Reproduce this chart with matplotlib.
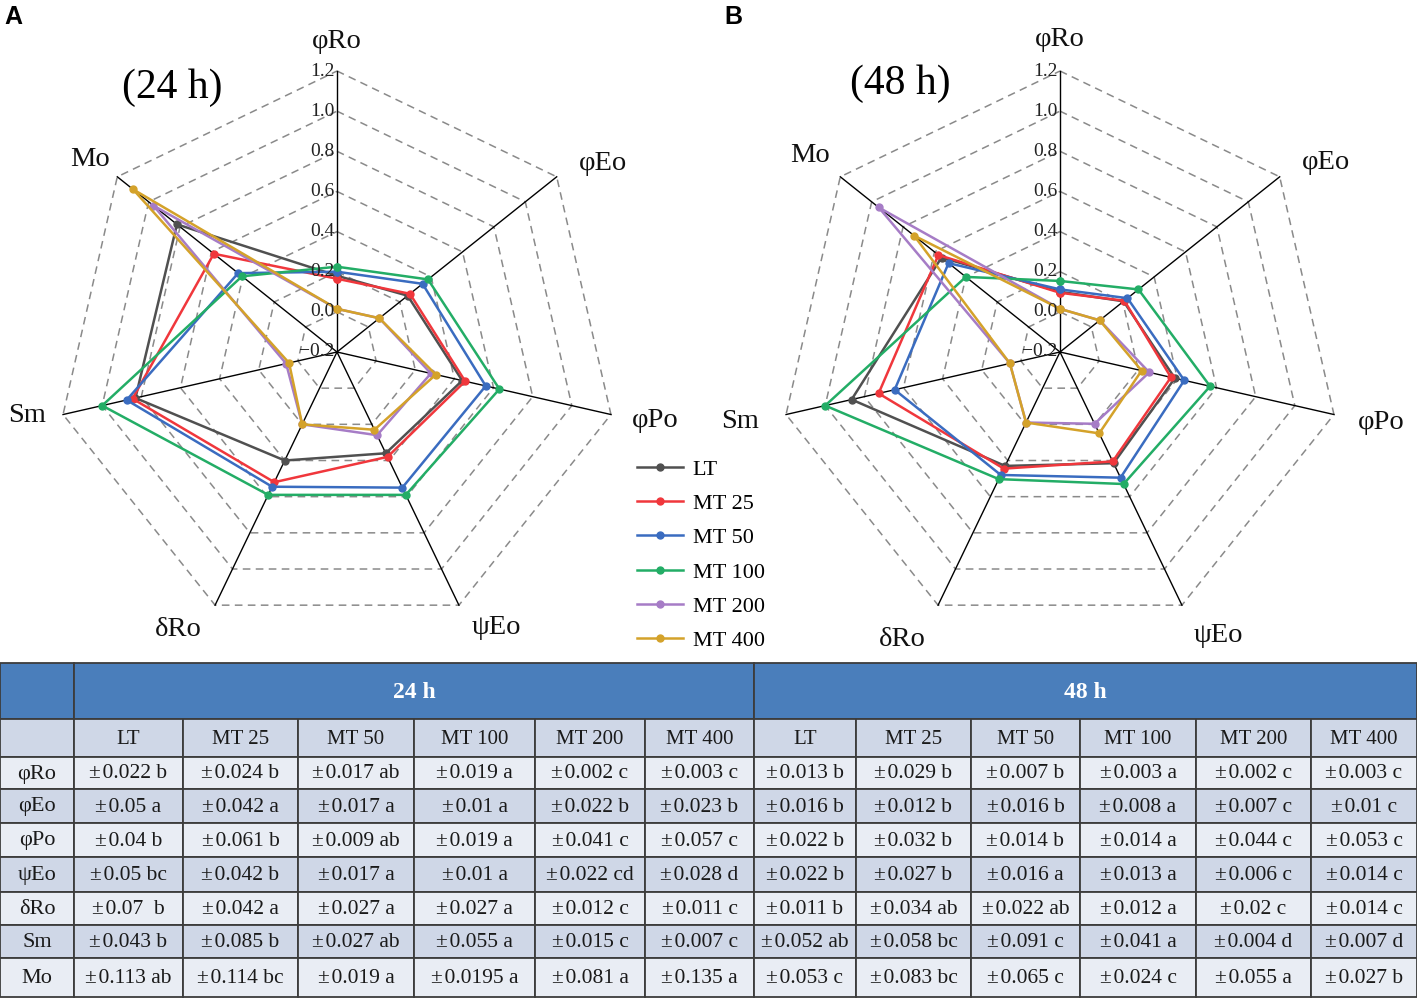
import numpy as np
import matplotlib
matplotlib.use('Agg')
import matplotlib.pyplot as plt
from matplotlib.patches import Rectangle

plt.rcParams['font.family'] = ['Liberation Serif', 'DejaVu Serif']

# ---------------- data ----------------
axis_labels = ['φRo', 'φEo', 'φPo', 'ψEo', 'δRo', 'Sm', 'Mo']
series_names = ['LT', 'MT 25', 'MT 50', 'MT 100', 'MT 200', 'MT 400']
series_colors = ['#505050', '#f0373c', '#3a6cc0', '#23ad66', '#a67cc6', '#d4a22a']

# 24 h (order: φRo, φEo, φPo, ψEo, δRo, Sm, Mo)
lt_24 = [0.18, 0.25, 0.44, 0.36, 0.40, 0.83, 0.82]
mt25_24 = [0.165, 0.265, 0.455, 0.38, 0.52, 0.845, 0.585]
mt50_24 = [0.20, 0.345, 0.56, 0.55, 0.545, 0.875, 0.43]
mt100_24 = [0.225, 0.38, 0.63, 0.59, 0.59, 1.00, 0.405]
mt200_24 = [0.015, 0.07, 0.28, 0.26, 0.20, 0.06, 0.97]
mt400_24 = [0.015, 0.07, 0.305, 0.23, 0.20, 0.045, 1.10]

# 48 h
lt_48 = [0.10, 0.205, 0.387, 0.415, 0.43, 0.865, 0.555]
mt25_48 = [0.095, 0.21, 0.367, 0.405, 0.445, 0.727, 0.575]
mt50_48 = [0.112, 0.23, 0.435, 0.495, 0.48, 0.645, 0.51]
mt100_48 = [0.154, 0.30, 0.567, 0.53, 0.503, 1.00, 0.40]
mt200_48 = [0.015, 0.053, 0.256, 0.197, 0.19, 0.056, 0.955]
mt400_48 = [0.015, 0.053, 0.217, 0.25, 0.19, 0.056, 0.73]

r_ticks = [-0.2, 0.0, 0.2, 0.4, 0.6, 0.8, 1.0, 1.2]
r_tick_labels = ['−0.2', '0.0', '0.2', '0.4', '0.6', '0.8', '1.0', '1.2']

table_cols = ['LT', 'MT 25', 'MT 50', 'MT 100', 'MT 200', 'MT 400']
table_rows = ['φRo', 'φEo', 'φPo', 'ψEo', 'δRo', 'Sm', 'Mo']
table_24h = [
    ['±0.022 b', '±0.024 b', '±0.017 ab', '±0.019 a', '±0.002 c', '±0.003 c'],
    ['±0.05 a', '±0.042 a', '±0.017 a', '±0.01 a', '±0.022 b', '±0.023 b'],
    ['±0.04 b', '±0.061 b', '±0.009 ab', '±0.019 a', '±0.041 c', '±0.057 c'],
    ['±0.05 bc', '±0.042 b', '±0.017 a', '±0.01 a', '±0.022 cd', '±0.028 d'],
    ['±0.07  b', '±0.042 a', '±0.027 a', '±0.027 a', '±0.012 c', '±0.011 c'],
    ['±0.043 b', '±0.085 b', '±0.027 ab', '±0.055 a', '±0.015 c', '±0.007 c'],
    ['±0.113 ab', '±0.114 bc', '±0.019 a', '±0.0195 a', '±0.081 a', '±0.135 a'],
]
table_48h = [
    ['±0.013 b', '±0.029 b', '±0.007 b', '±0.003 a', '±0.002 c', '±0.003 c'],
    ['±0.016 b', '±0.012 b', '±0.016 b', '±0.008 a', '±0.007 c', '±0.01 c'],
    ['±0.022 b', '±0.032 b', '±0.014 b', '±0.014 a', '±0.044 c', '±0.053 c'],
    ['±0.022 b', '±0.027 b', '±0.016 a', '±0.013 a', '±0.006 c', '±0.014 c'],
    ['±0.011 b', '±0.034 ab', '±0.022 ab', '±0.012 a', '±0.02 c', '±0.014 c'],
    ['±0.052 ab', '±0.058 bc', '±0.091 c', '±0.041 a', '±0.004 d', '±0.007 d'],
    ['±0.053 c', '±0.083 bc', '±0.065 c', '±0.024 c', '±0.055 a', '±0.027 b'],
]

# ---------------- figure ----------------
W, H = 1417, 1001
fig = plt.figure(figsize=(W / 100, H / 100), dpi=100)
fig.patch.set_facecolor('white')

R = 281            # pixels for the full radial range (-0.2 .. 1.2)
PX_PER_UNIT = R / 1.4

# label placement (compass angle in degrees, distance from centre in px)
label_pos_A = [(0, 310), (54.6, 326), (102.1, 325), (150.0, 318),
               (209.8, 320), (258.5, 316), (307.9, 313)]
label_pos_B = [(0, 312), (54.5, 327), (102.3, 329), (150.8, 325),
               (208.7, 328), (257.7, 327), (308.2, 318)]


def polar_rect(cx, cy):
    return [(cx - R) / W, (H - cy - R) / H, 2 * R / W, 2 * R / H]


def radar(ax, data_list, label_pos):
    n = len(axis_labels)
    angles = np.arange(n) * 2 * np.pi / n
    closed = np.append(angles, angles[0])
    ax.set_theta_zero_location('N')
    ax.set_theta_direction(-1)
    ax.set_ylim(-0.2, 1.2)
    ax.set_xticks([])
    ax.set_yticks([])
    ax.grid(False)
    ax.spines['polar'].set_visible(False)
    ax.patch.set_alpha(0)
    for lv in r_ticks[1:]:
        ax.plot(closed, [lv] * (n + 1), ls=(0, (5, 3.5)), color='#8a8a8a',
                lw=1.1, zorder=1, clip_on=False)
    for a in angles:
        ax.plot([a, a], [-0.2, 1.2], color='black', lw=1.0, zorder=2, clip_on=False)
    handles = []
    for vals, c, name in zip(data_list, series_colors, series_names):
        v = np.append(vals, vals[0])
        h, = ax.plot(closed, v, color=c, lw=1.8, marker='o', ms=5, zorder=3,
                     label=name, clip_on=False)
        handles.append(h)
    for t, s in zip(r_ticks, r_tick_labels):
        ax.annotate(s, xy=(0, t), xytext=(-2, 0), textcoords='offset points',
                    ha='right', va='center', fontsize=14, color='#222222', zorder=4)
    for (deg, rpx), lab in zip(label_pos, axis_labels):
        ax.text(np.deg2rad(deg), -0.2 + rpx / PX_PER_UNIT, lab, ha='center',
                va='center', fontsize=20.5, color='#111111')
    return handles


axA = fig.add_axes(polar_rect(337, 352), projection='polar')
handles = radar(axA, [lt_24, mt25_24, mt50_24, mt100_24, mt200_24, mt400_24],
                label_pos_A)
axB = fig.add_axes(polar_rect(1060, 352), projection='polar')
radar(axB, [lt_48, mt25_48, mt50_48, mt100_48, mt200_48, mt400_48], label_pos_B)

fig.text(4 / W, 1 - 17 / H, 'A', fontsize=18, fontweight='bold',
         family='Liberation Sans', ha='left', va='center')
fig.text(724 / W, 1 - 17 / H, 'B', fontsize=18, fontweight='bold',
         family='Liberation Sans', ha='left', va='center')
fig.text(172 / W, 1 - 88 / H, '(24 h)', fontsize=30, ha='center', va='center')
fig.text(900 / W, 1 - 84 / H, '(48 h)', fontsize=30, ha='center', va='center')

fig.legend(handles=handles, labels=series_names, loc='upper left',
           bbox_to_anchor=(637 / W, 1 - 459 / H), frameon=False, fontsize=16,
           handlelength=2.05, handletextpad=0.45, labelspacing=0.62,
           borderpad=0, borderaxespad=0)

# ---------------- table ----------------
tax = fig.add_axes([0, 0, 1, 1])
tax.set_xlim(0, W)
tax.set_ylim(H, 0)
tax.axis('off')
tax.set_zorder(-1)

col_edges = [0, 74, 183, 298, 414, 535, 645, 754, 856, 971, 1080, 1196, 1311, 1417]
row_edges = [663, 719, 757, 789, 823, 857, 892, 925, 958, 997]
blue = '#4a7ebb'
light = '#e9edf4'
dark = '#cfd7e7'
edge = '#3c3c3c'


def cell(x0, x1, y0, y1, fc, text='', color='#1a1a1a', **kw):
    tax.add_patch(Rectangle((x0, y0), x1 - x0, y1 - y0, facecolor=fc,
                            edgecolor=edge, lw=1.3))
    if text:
        tax.text((x0 + x1) / 2, (y0 + y1) / 2 + 1, text, ha='center', va='center',
                 color=color, **kw)


cell(col_edges[0], col_edges[1], row_edges[0], row_edges[1], blue)
cell(col_edges[1], col_edges[7], row_edges[0], row_edges[1], blue, '24 h',
     color='white', fontsize=17, fontweight='bold')
cell(col_edges[7], col_edges[13], row_edges[0], row_edges[1], blue, '48 h',
     color='white', fontsize=17, fontweight='bold')
cell(col_edges[0], col_edges[1], row_edges[1], row_edges[2], dark)
for j, name in enumerate(table_cols + table_cols):
    cell(col_edges[j + 1], col_edges[j + 2], row_edges[1], row_edges[2], dark,
         name, fontsize=15)
for i, rname in enumerate(table_rows):
    fc = light if i % 2 == 0 else dark
    y0, y1 = row_edges[i + 2], row_edges[i + 3]
    cell(col_edges[0], col_edges[1], y0, y1, fc, rname, fontsize=16)
    for j, txt in enumerate(table_24h[i] + table_48h[i]):
        cell(col_edges[j + 1], col_edges[j + 2], y0, y1, fc,
             txt.replace('±', '±\u200a'), fontsize=15.5)

fig.savefig('out.png', dpi=100)
